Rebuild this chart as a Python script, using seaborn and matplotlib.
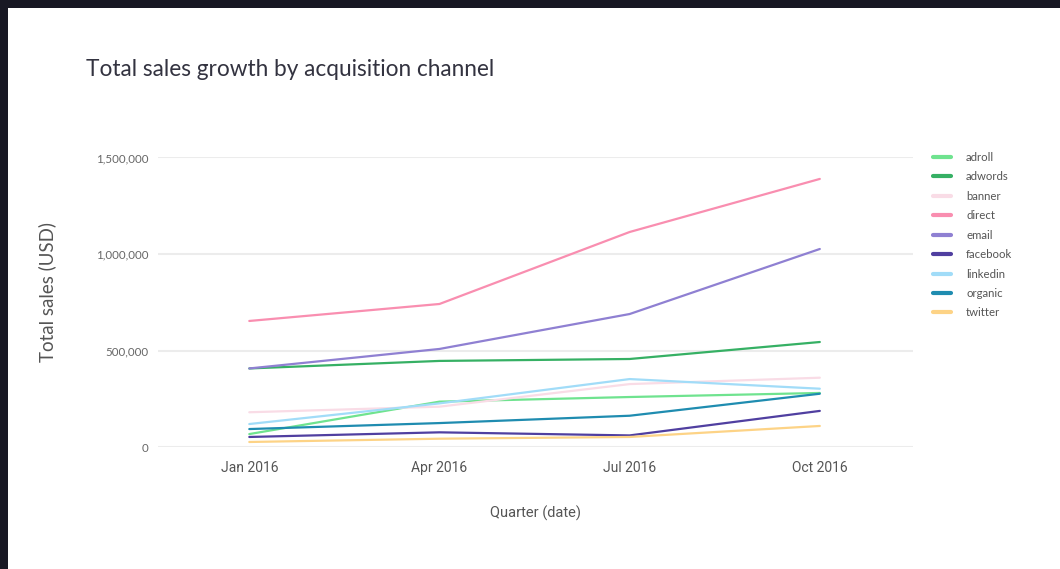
import matplotlib
matplotlib.use("Agg")
import matplotlib.pyplot as plt
import seaborn as sns
import pandas as pd
from matplotlib.patches import Rectangle

quarters = ["Jan 2016", "Apr 2016", "Jul 2016", "Oct 2016"]
channels = ["adroll", "adwords", "banner", "direct", "email", "facebook", "linkedin", "organic", "twitter"]
adroll = [67000, 235000, 259000, 280000]
adwords = [407000, 446000, 456000, 544000]
banner = [180000, 209000, 326000, 359000]
direct = [653000, 741000, 1114000, 1389000]
email = [407000, 508000, 689000, 1026000]
facebook = [52000, 76000, 60000, 187000]
linkedin = [119000, 226000, 352000, 302000]
organic = [93000, 124000, 162000, 276000]
twitter = [26000, 43000, 52000, 109000]
yticks = [0, 500000, 1000000, 1500000]
ytick_labels = ["0", "500,000", "1,000,000", "1,500,000"]

colors = ["#6fe38f", "#36b064", "#f9dce6", "#f98eb0", "#8f80d2",
          "#503fa0", "#a1dcf8", "#1f8cb0", "#fdd386"]

series = [adroll, adwords, banner, direct, email, facebook, linkedin, organic, twitter]
rows = []
for ch, vals in zip(channels, series):
    for i, (q, v) in enumerate(zip(quarters, vals)):
        rows.append({"channel": ch, "qi": i, "quarter": q, "sales": v})
df = pd.DataFrame(rows)

sns.set_theme(style="white")
plt.rcParams["font.family"] = ["Lato", "DejaVu Sans"]

W, H = 1060, 569
fig = plt.figure(figsize=(W / 100, H / 100), dpi=100)
fig.patch.set_facecolor("#181824")
fig.add_artist(Rectangle((8 / W, 0), 1 - 8 / W, 1 - 8 / H, transform=fig.transFigure,
                         facecolor="white", edgecolor="none", zorder=0))

left, right, top, bottom = 158, 913, 157.5, 447
ax = fig.add_axes([left / W, 1 - bottom / H, (right - left) / W, (bottom - top) / H])
ax.set_facecolor("none")

sns.lineplot(data=df, x="qi", y="sales", hue="channel", hue_order=channels,
             palette=colors, linewidth=1.6, ax=ax, legend=False)

ax.set_xlim(-0.48, 3.49)
ax.set_ylim(0, 1500000)
ax.set_xticks(range(len(quarters)))
ax.set_xticklabels(quarters, fontsize=10, color="#555555", family=["Roboto", "DejaVu Sans"])
ax.set_yticks(yticks)
ax.set_yticklabels(ytick_labels, fontsize=8.3, color="#666666")
ax.tick_params(axis="both", length=0)
ax.tick_params(axis="x", pad=10)
ax.tick_params(axis="y", pad=7)
ax.grid(axis="y", color="#ececec", linewidth=1.5)
ax.set_axisbelow(True)
for s in ax.spines.values():
    s.set_visible(False)

ax.set_xlabel("Quarter (date)", fontsize=10.5, color="#555555", labelpad=22,
              family=["Roboto", "DejaVu Sans"])
ax.set_ylabel("Total sales (USD)", fontsize=13.5, color="#555555")
ax.yaxis.set_label_coords(-0.135, 0.535)

fig.text(86 / W, 1 - 69 / H, "Total sales growth by acquisition channel",
         fontsize=16.3, color="#333340", va="center", ha="left")

handles = [plt.Line2D([], [], color=c, linewidth=3) for c in colors]
leg = fig.legend(handles, channels, loc="upper left",
                 bbox_to_anchor=(933 / W, 1 - 152 / H), frameon=False,
                 fontsize=8.2, labelspacing=0.74, handlelength=1.6, handletextpad=1.3,
                 borderpad=0, borderaxespad=0)
for t in leg.get_texts():
    t.set_color("#555555")

fig.savefig("out.png", dpi=100, facecolor=fig.get_facecolor())
